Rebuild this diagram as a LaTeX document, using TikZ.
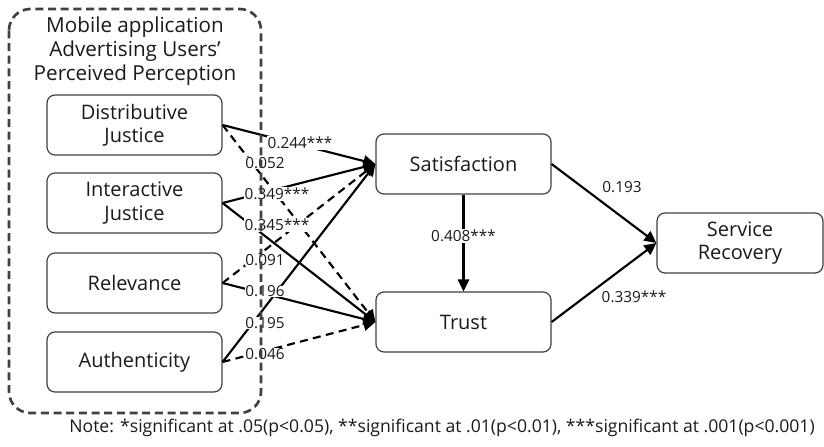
\documentclass[tikz,border=0pt]{standalone}
\usepackage{fontspec}
\setmainfont{Open Sans}
\usetikzlibrary{arrows.meta}
\definecolor{boxline}{HTML}{404040}
\definecolor{txt}{HTML}{1A1A1A}
\tikzset{
  box/.style={draw=boxline, line width=0.9pt, rounded corners=6pt, minimum width=131.25pt, minimum height=45pt, align=center, inner sep=0pt, text=txt, font=\fontsize{15}{17.5}\selectfont},
  solidarrow/.style={line width=1.6pt, -{Triangle[length=9pt,width=8.5pt]}},
  dasharrow/.style={line width=1.6pt, dash pattern=on 6pt off 4pt, -{Triangle[length=9pt,width=8.5pt]}},
  coef/.style={fill=white, inner sep=0.5pt, text=txt, font=\fontsize{11.5}{13}\selectfont},
}
\begin{document}
\begin{tikzpicture}[x=0.75pt,y=-0.75pt]
\useasboundingbox (0,0) rectangle (824,446);
% title
\node[text=txt, align=center, font=\fontsize{15.5}{17.8}\selectfont] (title) at (135,51) {Mobile application\\Advertising Users’\\Perceived Perception};
% boxes
\node[box] (dj) at (134.5,125) {Distributive\\Justice};
\node[box] (ij) at (134.5,203) {Interactive\\Justice};
\node[box] (rel) at (134.5,283) {Relevance};
\node[box] (auth) at (134.5,362) {Authenticity};
\node[box] (sat) at (463.5,164) {Satisfaction};
\node[box] (trust) at (463.5,322) {Trust};
\node[box, minimum width=124.5pt] (sr) at (740,243) {Service\\Recovery};
% arrows
\draw[solidarrow] (dj.east) -- (sat.west);
\draw[dasharrow] (dj.east) -- (trust.west);
\draw[solidarrow] (ij.east) -- (sat.west);
\draw[solidarrow] (ij.east) -- (trust.west);
\draw[dasharrow] (rel.east) -- (sat.west);
\draw[solidarrow] (rel.east) -- (trust.west);
\draw[solidarrow] (auth.east) -- (sat.west);
\draw[dasharrow] (auth.east) -- (trust.west);
\draw[solidarrow] (sat.south) -- (trust.north);
\draw[solidarrow] (sat.east) -- (sr.west);
\draw[solidarrow] (trust.east) -- (sr.west);
% coefficients
\node[coef] (c1) at (300,143) {0.244***};
\node[coef] (c2) at (265,163) {0.052};
\node[coef] (c3) at (277,194) {0.349***};
\node[coef] (c4) at (277,225) {0.345***};
\node[coef] (c5) at (265,260) {0.091};
\node[coef] (c6) at (265,291) {0.196};
\node[coef] (c7) at (265,323) {0.195};
\node[coef] (c8) at (265,354) {0.046};
\node[coef] (c9) at (463.5,236) {0.408***};
\node[coef, fill=none] (c10) at (622,187) {0.193};
\node[coef, fill=none] (c11) at (634,297) {0.339***};
% group border
\draw[boxline, line width=2pt, dash pattern=on 6pt off 3.5pt, rounded corners=16pt] (9,9) rectangle (261,413);
% note
\node[text=txt, font=\fontsize{13.2}{15}\selectfont] (note) at (442,428) {Note: *significant at .05(p<0.05), **significant at .01(p<0.01), ***significant at .001(p<0.001)};
\end{tikzpicture}
\end{document}
